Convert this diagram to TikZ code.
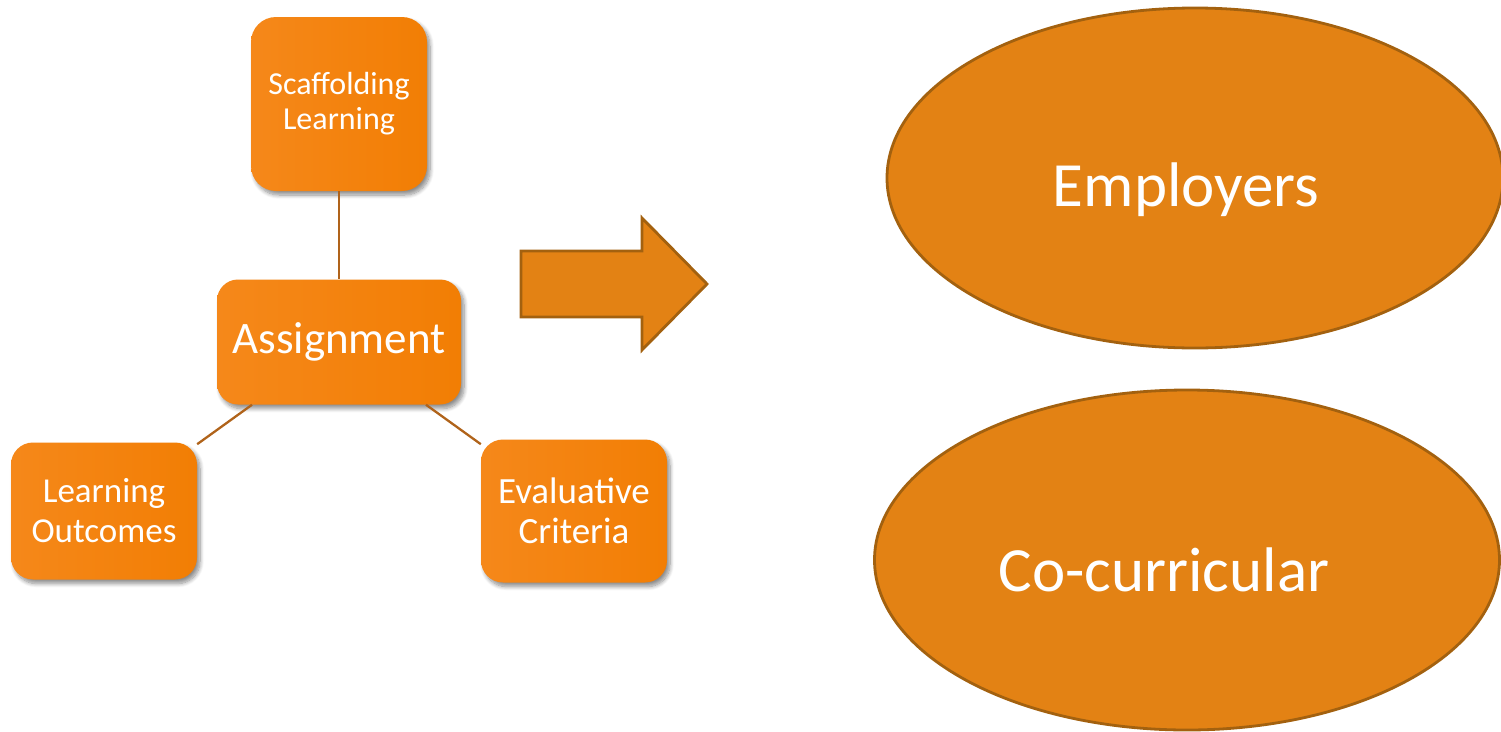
\documentclass[tikz,border=0pt]{standalone}
\usepackage{fontspec}
\setmainfont{Carlito}
\usetikzlibrary{shapes.geometric,shadows.blur}

\definecolor{boxA}{HTML}{F5881A}
\definecolor{boxB}{HTML}{F27E04}
\definecolor{ovalfill}{HTML}{E38214}
\definecolor{ovaledge}{HTML}{A3610F}
\definecolor{linkcol}{HTML}{B0631A}

\tikzset{
  topicbox/.style={rectangle, inner sep=0pt, align=center, text=white,
    left color=boxA, right color=boxB, draw=none,
    blur shadow={shadow xshift=3pt, shadow yshift=-4pt, shadow blur radius=4pt,
      shadow opacity=45, shadow blur steps=8}},
  link/.style={draw=linkcol, line width=2.3pt},
  bigoval/.style={ellipse, inner sep=0pt, fill=ovalfill, draw=ovaledge, line width=2.8pt},
  ovaltext/.style={anchor=base, text=white, inner sep=0pt,
    font=\fontsize{63}{72}\selectfont},
}

\begin{document}
\begin{tikzpicture}[x=1pt, y=-1pt]
  \useasboundingbox (0,0) rectangle (1501,731);
  \clip (0,0) rectangle (1501,731);

  % cluster of topic boxes
  \node[topicbox, minimum width=176pt, minimum height=174pt, rounded corners=25pt,
        font=\fontsize{32}{35}\selectfont] (scaf) at (339,104) {Scaffolding\\Learning};
  \node[topicbox, minimum width=244pt, minimum height=125pt, rounded corners=21pt,
        font=\fontsize{45}{50}\selectfont] (assign) at (339,342) {Assignment};
  \node[topicbox, minimum width=186pt, minimum height=137pt, rounded corners=22pt,
        font=\fontsize{35}{40}\selectfont] (lo) at (104,511) {Learning\\Outcomes};
  \node[topicbox, minimum width=186pt, minimum height=143pt, rounded corners=22pt,
        font=\fontsize{37}{40}\selectfont] (ec) at (574,511) {Evaluative\\Criteria};

  \draw[link] (scaf) -- (assign);
  \draw[link] (assign) -- (lo);
  \draw[link] (assign) -- (ec);

  % block arrow
  \draw[fill=ovalfill, draw=ovaledge, line width=2.8pt, line join=miter]
    (521,251) -- (642,251) -- (642,218) -- (707,284) -- (642,350)
    -- (642,317) -- (521,317) -- cycle;

  % ovals
  \node[bigoval, minimum width=616pt, minimum height=340pt] (emp) at (1195,178) {};
  \node[ovaltext] (emptext) at (1186,206) {Employers};

  \node[bigoval, minimum width=625pt, minimum height=340pt] (cocur) at (1187,560) {};
  \node[ovaltext] (cocurtext) at (1164,591) {Co-curricular};
\end{tikzpicture}
\end{document}
